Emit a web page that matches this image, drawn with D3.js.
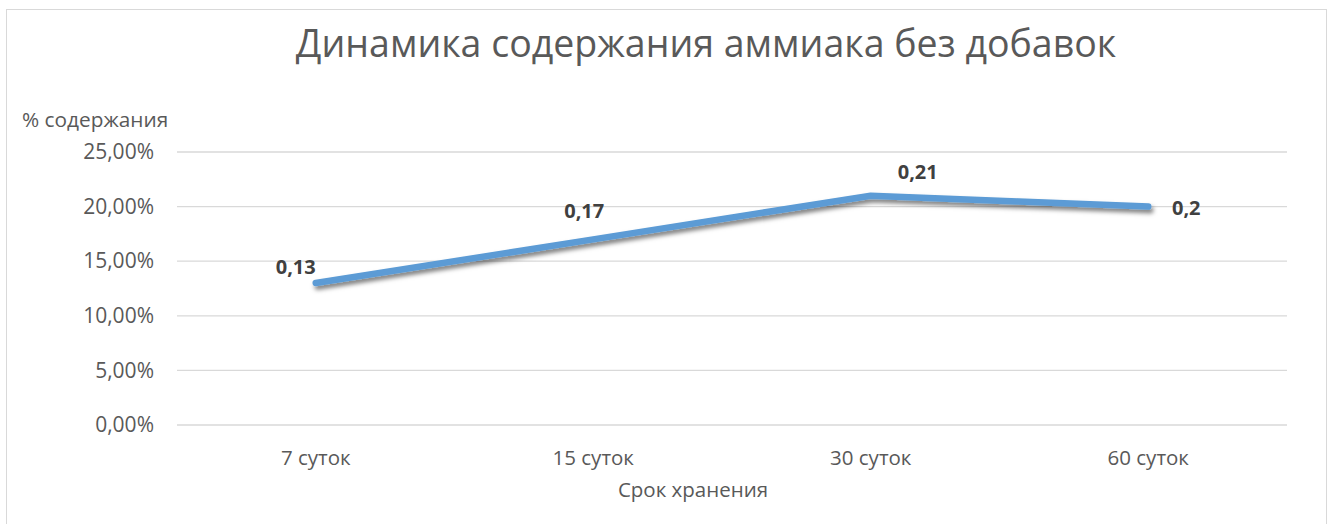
<!DOCTYPE html>
<html>
<head>
<meta charset="utf-8">
<script src="https://cdn.jsdelivr.net/npm/d3@7"></script>
<style>
  body { margin: 0; background: #fff; }
  text { font-family: "Open Sans", "Noto Sans", sans-serif; }
</style>
</head>
<body>
<div id="chart"></div>
<script>
// chart data
const categories = ["7 суток", "15 суток", "30 суток", "60 суток"];
const values = [0.13, 0.17, 0.21, 0.2];
const labelTexts = ["0,13", "0,17", "0,21", "0,2"];
const yTicks = [0, 0.05, 0.10, 0.15, 0.20, 0.25];

const titleText = "Динамика содержания аммиака без добавок";
const yTitle = "% содержания";
const xTitle = "Срок хранения";

const width = 1330, height = 524;
const margin = { top: 152, right: 43, bottom: 99, left: 177 };
const innerW = width - margin.left - margin.right;
const innerH = height - margin.top - margin.bottom;

const svg = d3.select("#chart").append("svg")
  .attr("width", width)
  .attr("height", height);

// drop shadow for the line
const defs = svg.append("defs");
const filter = defs.append("filter").attr("id", "shadow")
  .attr("x", "-10%").attr("y", "-50%").attr("width", "120%").attr("height", "200%");
filter.append("feDropShadow")
  .attr("dx", 2).attr("dy", 3.5).attr("stdDeviation", 2.2)
  .attr("flood-color", "#000").attr("flood-opacity", 0.5);

// outer border
svg.append("rect")
  .attr("x", 6.5).attr("y", 9.5)
  .attr("width", 1320).attr("height", 530)
  .attr("fill", "#fff").attr("stroke", "#d9d9d9");

svg.append("text")
  .attr("x", 706).attr("y", 57)
  .attr("text-anchor", "middle")
  .attr("font-size", 37.5)
  .attr("fill", "#595959")
  .text(titleText);

const g = svg.append("g").attr("transform", `translate(${margin.left},${margin.top})`);

const x = d3.scaleBand().domain(categories).range([0, innerW]);
const y = d3.scaleLinear().domain([0, 0.25]).range([innerH, 0]);

// gridlines
g.selectAll(".grid").data(yTicks).join("line")
  .attr("class", "grid")
  .attr("x1", 0).attr("x2", innerW)
  .attr("y1", d => y(d)).attr("y2", d => y(d))
  .attr("stroke", "#d9d9d9").attr("stroke-width", 1.3);

// y axis labels
const yAxis = g.append("g")
  .call(d3.axisLeft(y).tickValues(yTicks).tickSize(0).tickPadding(23)
    .tickFormat(d => d3.format(".2f")(d * 100).replace(".", ",") + "%"));
yAxis.select(".domain").remove();
yAxis.selectAll("text").attr("font-size", 21).attr("fill", "#595959")
  .style("font-family", "'Open Sans', 'Noto Sans', sans-serif");

// x axis labels
const xAxis = g.append("g").attr("transform", `translate(0,${innerH})`)
  .call(d3.axisBottom(x).tickSize(0).tickPadding(25));
xAxis.select(".domain").remove();
xAxis.selectAll("text").attr("font-size", 20.5).attr("fill", "#595959")
  .style("font-family", "'Open Sans', 'Noto Sans', sans-serif");

// axis titles
svg.append("text")
  .attr("x", 22).attr("y", 127)
  .attr("font-size", 20.8).attr("fill", "#595959")
  .text(yTitle);

svg.append("text")
  .attr("x", 693).attr("y", 497)
  .attr("text-anchor", "middle")
  .attr("font-size", 20.5).attr("fill", "#595959")
  .text(xTitle);

// line
const line = d3.line()
  .x((d, i) => x(categories[i]) + x.bandwidth() / 2)
  .y(d => y(d));

g.append("path")
  .datum(values)
  .attr("d", line)
  .attr("fill", "none")
  .attr("stroke", "#5b9bd5")
  .attr("stroke-width", 6.5)
  .attr("stroke-linecap", "round")
  .attr("stroke-linejoin", "round")
  .attr("filter", "url(#shadow)");

// data labels (offsets relative to point)
const labelDx = [-20, -9, 47, 38];
const labelDy = [-9, -21, -17, 8];
g.selectAll(".dlabel").data(values).join("text")
  .attr("class", "dlabel")
  .attr("x", (d, i) => x(categories[i]) + x.bandwidth() / 2 + labelDx[i])
  .attr("y", (d, i) => y(d) + labelDy[i])
  .attr("text-anchor", "middle")
  .attr("font-size", 20).attr("font-weight", "bold")
  .attr("fill", "#404040")
  .text((d, i) => labelTexts[i]);
</script>
</body>
</html>
